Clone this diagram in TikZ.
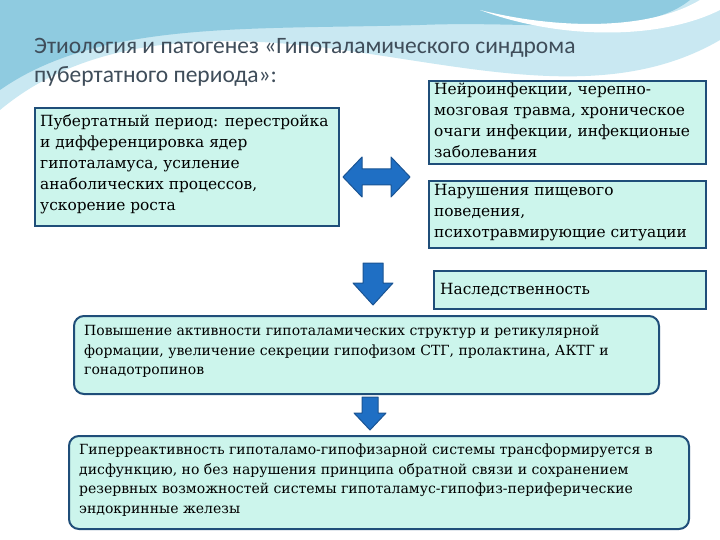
\documentclass[tikz,border=0pt]{standalone}
\usepackage{fontspec}
\setmainfont{DejaVu Serif}
\newfontfamily\titlefont{Carlito}
\definecolor{boxfill}{HTML}{CCF5EC}
\definecolor{boxline}{HTML}{1F4E79}
\definecolor{arrfill}{HTML}{1F6FC4}
\definecolor{arrline}{HTML}{1A5493}
\definecolor{wave}{HTML}{8FCBE0}
\definecolor{wave2}{HTML}{C9E8F2}
\definecolor{titlec}{HTML}{3F4D5A}
\tikzset{
  sqbox/.style={draw=boxline,line width=2pt,fill=boxfill,anchor=north west,inner sep=0pt},
  rbox/.style={draw=boxline,line width=2pt,fill=boxfill,rounded corners=10pt,anchor=north west,inner sep=0pt},
  txt/.style={anchor=north west,align=left,inner sep=0pt,font=\fontsize{15.4}{21}\selectfont},
  stxt/.style={anchor=north west,align=left,inner sep=0pt,font=\fontsize{14}{19.5}\selectfont},
  bluearrow/.style={fill=arrfill,draw=arrline,line width=1pt,line join=round}
}
\begin{document}
\begin{tikzpicture}[x=1pt,y=-1pt]
\useasboundingbox (0,0) rectangle (720,540);
\fill[white] (0,0) rectangle (720,540);
% top wave decoration
\fill[wave2] (0,0) -- (720,0) -- (720,40) .. controls (600,110) and (450,60) .. (300,45) .. controls (150,30) and (60,60) .. (0,110) -- cycle;
\fill[wave] (0,0) -- (690,0) .. controls (640,40) and (540,20) .. (420,25) .. controls (250,30) and (100,20) .. (0,90) -- cycle;
\fill[white] (700,0) .. controls (650,30) and (560,30) .. (480,10) .. controls (560,40) and (660,40) .. (720,10) -- (720,0) -- cycle;
% title
\node[anchor=west,inner sep=0pt,text=titlec,font=\titlefont\fontsize{23.5}{27}\selectfont] (t1) at (34,48) {Этиология и патогенез «Гипоталамического синдрома};
\node[anchor=west,inner sep=0pt,text=titlec,font=\titlefont\fontsize{23.5}{27}\selectfont] (t2) at (34,76) {пубертатного периода»:};
% boxes
\node[sqbox,minimum width=304pt,minimum height=118pt] (b1) at (34,107) {};
\node[txt] (b1t) at (40,114) {Пубертатный период: перестройка\\и дифференцировка ядер\\гипоталамуса, усиление\\анаболических процессов,\\ускорение роста};
\node[sqbox,minimum width=277pt,minimum height=83pt] (b2) at (428,80) {};
\node[txt] (b2t) at (434,83) {Нейроинфекции, черепно-\\мозговая травма, хроническое\\очаги инфекции, инфекционые\\заболевания};
\node[sqbox,minimum width=277pt,minimum height=67pt] (b3) at (428,180) {};
\node[txt] (b3t) at (434,184) {Нарушения пищевого\\поведения,\\психотравмирующие ситуации};
\node[sqbox,minimum width=272pt,minimum height=38pt] (b4) at (433,270) {};
\node[txt,anchor=west] (b4t) at (440,290) {Наследственность};
\node[rbox,minimum width=585pt,minimum height=78pt] (b5) at (73,315) {};
\node[stxt] (b5t) at (84,325) {Повышение активности гипоталамических структур и ретикулярной\\формации, увеличение секреции гипофизом СТГ, пролактина, АКТГ и\\гонадотропинов};
\node[rbox,minimum width=620pt,minimum height=93pt] (b6) at (68,435) {};
\node[stxt] (b6t) at (79,444) {Гиперреактивность гипоталамо-гипофизарной системы трансформируется в\\дисфункцию, но без нарушения принципа обратной связи и сохранением\\резервных возможностей системы гипоталамус-гипофиз-периферические\\эндокринные железы};
% arrows
\draw[bluearrow] (343,177) -- (362,157) -- (362,169) -- (391,169) -- (391,157) -- (410,177) -- (391,197) -- (391,185) -- (362,185) -- (362,197) -- cycle;
\draw[bluearrow] (363,263) -- (383,263) -- (383,283) -- (393,283) -- (373,305) -- (353,283) -- (363,283) -- cycle;
\draw[bluearrow] (362,397) -- (378,397) -- (378,413) -- (386,413) -- (370,430) -- (354,413) -- (362,413) -- cycle;
\end{tikzpicture}
\end{document}
